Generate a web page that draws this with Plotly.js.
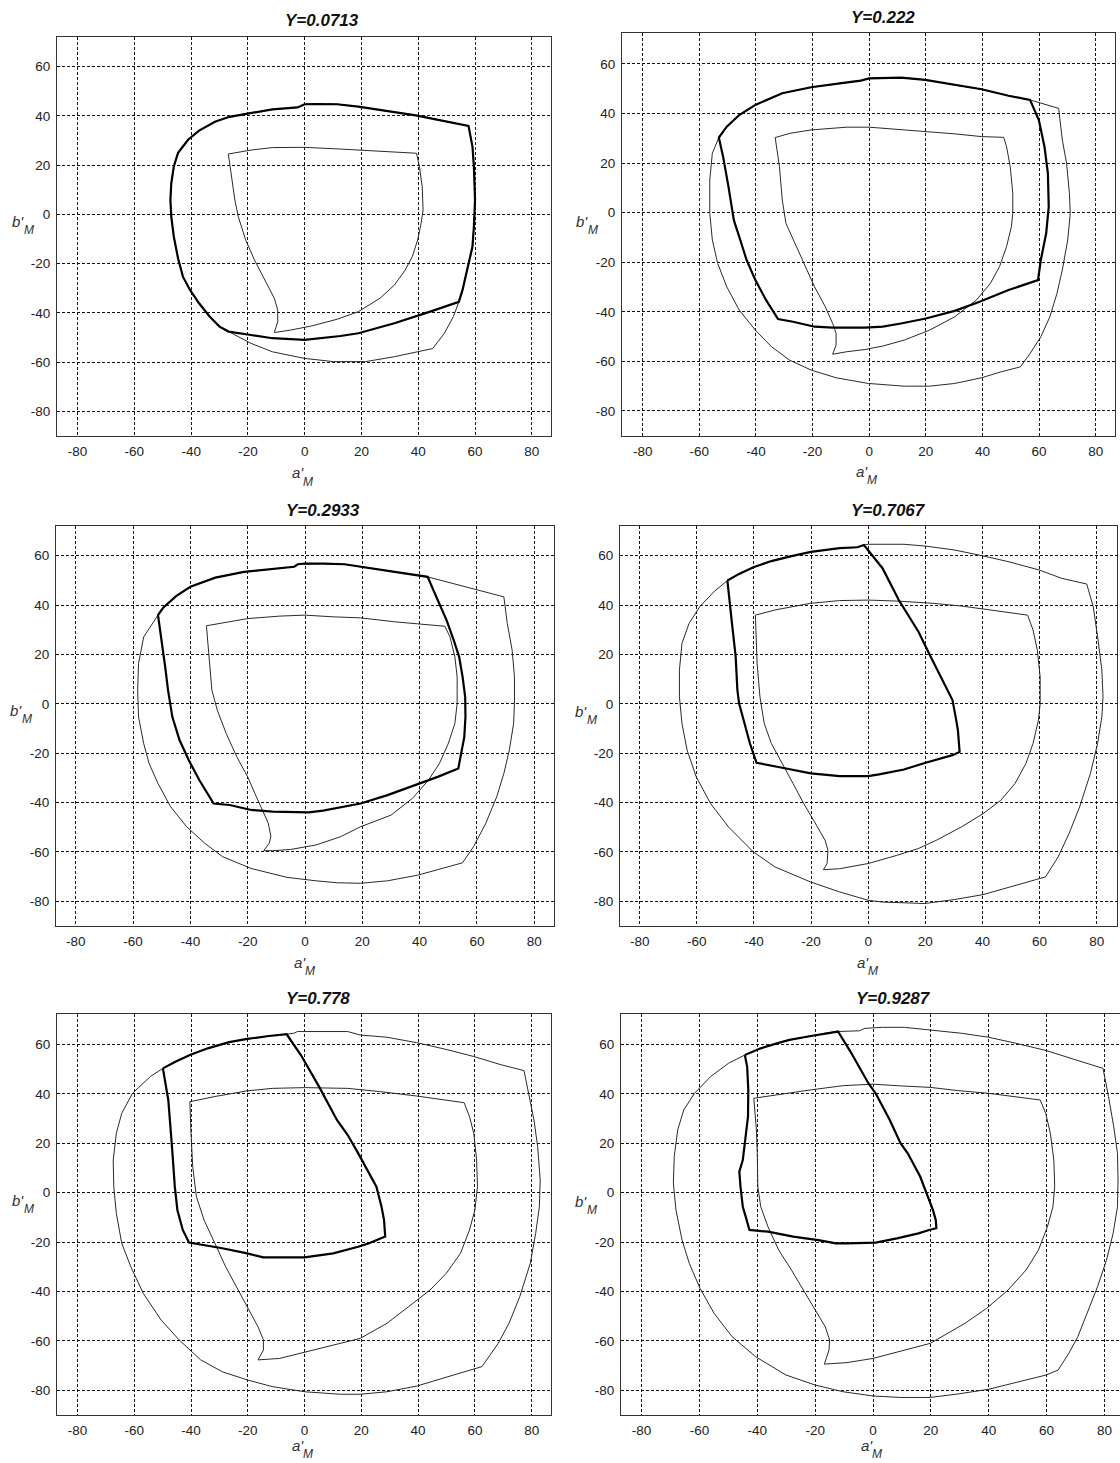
<!DOCTYPE html>
<html>
<head>
<meta charset="utf-8">
<script src="https://cdn.plot.ly/plotly-3.0.1.min.js"></script>
<style>
html,body{margin:0;padding:0;background:#fff;overflow:hidden;}
#chart{width:1126px;height:1463px;}
</style>
</head>
<body>
<div id="chart"></div>
<script>
// ---------------- data (a'_M , b'_M) ----------------
const titles = ["Y=0.0713", "Y=0.222", "Y=0.2933", "Y=0.7067", "Y=0.778", "Y=0.9287"];
const xTicks = [-80, -60, -40, -20, 0, 20, 40, 60, 80];
const yTicks = [-80, -60, -40, -20, 0, 20, 40, 60];

// Panel 1 : Y=0.0713
const thick1A = [0,-2.5,-11.4,-20.2,-26.5,-31.6,-37.2,-41,-44.6,-46.1,-47,-47.3,-47,-46.1,-44.6,-42.9,-40.4,-37.2,-33.5,-30,-26.8,-18.9,-11.4,0,6.3,12.6,18.9,31.6,44.2,54.3,55.6,57.4,59.1,59.6,60,59.6,59.1,57.7,44.2,39.1,18.9,11.4,3.8,0];
const thick1B = [44.7,43.4,42.6,41,39.6,37.6,34,30.4,25,19.4,12.6,5.8,-0.9,-9.1,-17.9,-25.3,-30.7,-36.1,-41.5,-45.6,-47.6,-49,-50.3,-51,-50.3,-49.4,-48.3,-44.2,-39.5,-35.5,-30.7,-21.2,-13.1,-5,5.8,19.4,27.5,35.9,39,40.2,43.7,44.7,44.8,44.7];
const inner1A = [-26.9,-18.9,-11.4,0,12.6,25.3,39.4,40.4,41.4,41.7,41,39.8,37.9,35.4,31.6,26.5,18.9,11.4,2.5,-5,-10.7,-9.5,-9.5,-10.7,-13.9,-17.7,-20.8,-23.4,-24.6,-25.9,-26.9];
const inner1B = [24.5,26.1,27.1,27.2,26.5,25.7,24.8,19.4,11.2,1.8,-3.7,-10.4,-17.2,-22.6,-28.7,-34.1,-39.5,-42.6,-45.3,-47,-48,-43.6,-38.8,-34.1,-26.7,-18.5,-10.4,-0.9,5.8,15.3,24.5];
const outer1A = [-26.8,-18.9,-11.4,0,10.1,21.5,31.6,45.1,49.2,52.4,54.3,55.6,57.4,59.1,59.6,60,59.6,59.1,57.7,44.2,39.1,18.9,11.4,3.8,0,-2.5,-11.4,-20.2,-26.5,-31.6,-37.2,-41,-44.6,-46.1,-47,-47.3,-47,-46.1,-44.6,-42.9,-40.4,-37.2,-33.5,-30,-26.8];
const outer1B = [-47.6,-52.4,-55.8,-58.5,-59.8,-59.8,-57.8,-54.5,-48.3,-41.5,-35.5,-30.7,-21.2,-13.1,-5,5.8,19.4,27.5,35.9,39,40.2,43.7,44.7,44.8,44.7,43.4,42.6,41,39.6,37.6,34,30.4,25,19.4,12.6,5.8,-0.9,-9.1,-17.9,-25.3,-30.7,-36.1,-41.5,-45.6,-47.6];

// Panel 2 : Y=0.222
const thick2A = [0,-3,-10.4,-20.5,-30.7,-40.2,-45.9,-50.3,-53.1,-51.6,-49.7,-47.8,-45.9,-43.3,-40.2,-36.4,-32.2,-26.9,-19.3,-12.9,-1.5,4.8,11.2,20,30.2,39,49.2,59.6,60.6,62.5,63.4,63.1,61.9,59.9,56.8,49.2,39.7,30.2,19.8,11.2,4.8,0];
const thick2B = [54.2,53.3,52.2,50.6,48.2,43.5,39.4,34.7,30.3,22.6,10.5,-3,-9.7,-19.1,-27.2,-35.3,-42.9,-44,-46,-46.4,-46.4,-46,-44.7,-42.7,-39.6,-35.9,-31.2,-27.2,-19.1,-8.3,2.4,15.9,26.6,37.4,45.5,47.2,49.8,51.5,53.6,54.5,54.5,54.2];
const inner2A = [-33.2,-28.1,-20.5,-7.9,0,8.6,17.5,30.2,39.7,47.5,48.5,49.8,50.7,50.7,50.2,48.5,46,42.8,37.8,30.2,21.3,12.4,4.8,-1.5,-7.9,-12.9,-11.7,-11.7,-12.9,-15.5,-19.3,-23.1,-26.9,-29.4,-30.7,-31.7,-33.2];
const inner2B = [30.3,32,33.4,34.5,34.5,33.8,33,31.8,30.7,30.4,26.6,18.6,7.8,-0.3,-5.7,-13.7,-21.8,-28.5,-35.3,-42,-47.4,-51.4,-53.8,-55.2,-56.1,-57.1,-53.4,-48.7,-44.7,-38,-29.9,-20.5,-11,-4.3,5.1,18.6,30.3];
const outer2A = [-53.1,-55.4,-56.3,-56.3,-55.4,-53.5,-50.3,-45.9,-40.2,-34.5,-28.1,-20.5,-11.7,-0.3,12.4,21.3,30.2,39.7,46.6,53.4,56.8,60.6,63.8,66.3,68.2,70.1,71,70.7,69.7,68.2,66.9,56.8,49.2,39.7,30.2,19.8,11.2,4.8,0,-3,-10.4,-20.5,-30.7,-40.2,-45.9,-50.3,-53.1];
const outer2B = [30.3,24,13.2,-0.3,-11,-20.5,-29.9,-39.3,-47.4,-54.1,-59.5,-63.5,-66.6,-68.9,-70,-70,-68.9,-66.6,-64.2,-62.2,-56.8,-50.1,-42,-32.6,-23.1,-11,-0.3,7.8,19.9,29.3,42.1,45.5,47.2,49.8,51.5,53.6,54.5,54.5,54.2,53.3,52.2,50.6,48.2,43.5,39.4,34.7,30.3];

// Panel 3 : Y=0.2933
const thick3A = [0,-2.5,-3.8,-12.5,-21.3,-31.3,-40,-45,-49.4,-51.3,-50,-48.8,-47.8,-46.3,-43.8,-40.6,-36.9,-31.9,-26.3,-18.8,-11.3,1.3,6.3,13.8,19.4,28.8,37.5,46.3,53.5,54.4,55.6,56,55.9,55,53.8,51.9,49.4,46.3,42.8,31.3,19.4,13.8,6.3,0];
const thick3B = [56.8,56.5,55.5,54.4,53.4,51.1,47.4,43.6,39,35.9,25.8,15,5.5,-5.3,-14.7,-22.8,-30.9,-40.4,-41,-43,-43.7,-44,-43.3,-41.7,-40.4,-37,-33.3,-29.6,-26.2,-20.1,-13.4,-5.3,2.8,10.9,19,25.8,33.9,42,51.4,53.4,55.5,56.5,56.8,56.8];
const inner3A = [-34.4,-28.8,-20,-8.8,0,10,19.4,31.3,39.4,48.8,50.6,52.3,53.1,53.1,52.3,50,46.9,43.1,37.5,30,19.4,12.5,3.8,-5,-11.3,-14.4,-12.5,-11.9,-12.8,-15,-17.5,-20,-23.8,-27.5,-30.6,-32.5,-33.5,-34.4];
const inner3B = [31.6,32.8,34.5,35.5,35.9,35.2,34.8,33.2,32.5,31.4,27.1,19,10.9,0.1,-8,-16.1,-24.2,-30.9,-38.3,-45.1,-49.8,-53.8,-57.2,-59,-59.5,-59.5,-56.5,-53.8,-48.4,-42.4,-36.3,-29.6,-21.5,-12,-2.6,5.5,19,31.6];
const outer3A = [-51.3,-56.3,-58.1,-58.4,-58.1,-56.3,-54.4,-51.3,-46.9,-41.3,-35,-28.8,-18.8,-6.3,3.8,11.3,19.4,28.8,39.4,47.5,55,58.8,63.1,66.9,69.4,71.3,72.8,73.1,73.1,72.3,70.6,69.4,56.3,42.8,31.3,19.4,13.8,6.3,0,-2.5,-3.8,-12.5,-21.3,-31.3,-40,-45,-49.4,-51.3];
const outer3B = [35.9,27.1,16.3,5.5,-5.3,-16.1,-24.2,-32.3,-41.7,-49.8,-56.5,-61.9,-66.7,-70.3,-71.7,-72.5,-72.7,-71.7,-69.4,-66.7,-64.4,-57.9,-48.4,-37.7,-28.2,-18.8,-8,0.1,10.9,21.7,32.5,43.3,47.4,51.4,53.4,55.5,56.5,56.8,56.8,56.5,55.5,54.4,53.4,51.1,47.4,43.6,39,35.9];

// Panel 4 : Y=0.7067
const thick4A = [-49.3,-45.2,-40.2,-33.9,-27.6,-20.1,-10,-3.8,-1.5,5,10.7,17.6,21.3,25.1,27.6,29.5,30.7,31.4,32,29.5,20.1,12.5,3.8,0,-10,-20.1,-30.1,-39.1,-41.4,-43.3,-45.2,-45.8,-46.4,-47.7,-49.3];
const thick4B = [49.9,52.6,55.3,57.8,59.6,61.5,63,63.4,64.3,54.9,42,29.2,20.4,11.6,5.5,1.5,-5.9,-10.7,-19.5,-20.8,-23.9,-26.6,-28.6,-29.3,-29.3,-28.2,-25.9,-23.9,-16.1,-8,0.1,5.5,19.1,32.6,49.9];
const inner4A = [-39.5,-32.6,-20.1,-10,0,10,22.6,32.6,42.7,55.8,57.7,59.2,60.2,60.2,59.6,57.7,55.2,51.4,46.4,40.2,32.6,23.8,17.6,10,0,-10,-15.7,-14.4,-14.1,-15.1,-18.8,-22.6,-26.3,-30.1,-33.9,-36.4,-37.9,-38.9,-39.1,-39.5];
const inner4B = [35.9,38,40.7,41.8,42,41.6,40.7,39.6,38,35.9,29.9,21.8,10.9,0.1,-6.6,-16.1,-24.2,-32.3,-39.1,-44.5,-49.9,-55.3,-58.6,-61.4,-64.7,-66.8,-67.2,-64.7,-59.3,-55.3,-47.8,-40.4,-32.3,-24.2,-16.1,-8,2.8,16.4,27.2,35.9];
const outer4A = [-49.3,-54,-59,-62.7,-65.2,-66.1,-66.1,-65.2,-63.4,-60.2,-55.2,-48.9,-40.2,-32.6,-20.1,-10,0,5,19.8,30.1,40.2,51.4,62.1,66.5,70.3,74,77.8,80.3,81.8,82.2,81.8,80.3,78.8,76.5,67.8,59.8,48.9,39.8,30.1,19.8,12.5,0,-1.5,-3.8,-10,-20.1,-27.6,-33.9,-40.2,-45.2,-49.3];
const outer4B = [49.9,45.4,39.3,32.6,24.5,13.6,2.8,-8,-18.8,-29.6,-40.4,-49.9,-60,-66.1,-72.2,-76.2,-79.6,-80.3,-80.9,-79.3,-77.3,-73.5,-70.1,-62,-52.6,-41.8,-28.2,-16.1,-5.3,2.8,13.6,27.2,39.3,48.5,50.8,54.2,57.6,60,62.3,63.9,64.6,64.6,64.3,63.4,63,61.5,59.6,57.8,55.3,52.6,49.9];

// Panel 5 : Y=0.778
const thick5A = [-49.9,-45.5,-40.4,-34.1,-26.5,-20.2,-12.6,-6.3,-1.3,5.1,11.4,15.2,18.9,22.7,25.3,27.1,28,28.4,22.7,18.9,10.1,0,-6.3,-14.5,-20.2,-29,-40.7,-42.9,-44.8,-45.7,-46.7,-48,-49.9];
const thick5B = [50.3,53,55.7,58.4,60.9,62.2,63.4,64.1,55.7,42.9,29.4,23.3,15.9,7.8,2.4,-5.7,-11.1,-17.8,-20.5,-21.9,-24.6,-26.2,-26.2,-26.2,-24.6,-22.5,-20.2,-15.1,-7,2.4,18.6,37.5,50.3];
const inner5A = [-40.4,-31.6,-20.2,-11.4,0,6.3,15.2,26.5,39.5,56.2,58.1,59.6,60.6,60.9,60,58.1,54.9,49.9,44.2,36.6,29,19.6,11.4,0,-8.8,-16.4,-14.5,-14.5,-16.4,-20.2,-24,-27.8,-31.6,-35.4,-38.1,-39.4,-40,-40.4];
const inner5B = [36.8,38.9,41.2,42.2,42.5,42.5,42.2,40.9,39.1,36.4,30.8,24,13.2,2.4,-7,-15.1,-24.6,-32.7,-39.4,-46.2,-52.9,-59,-61.4,-64.8,-67.1,-67.7,-63.7,-59.6,-54.3,-46.2,-38.1,-30,-20.5,-11.1,-1.6,10.5,24,36.8];
const outer5A = [-49.9,-54.3,-60.6,-64.4,-66.3,-67.4,-67.2,-66.3,-64.4,-61.2,-56.8,-50.5,-44.2,-36.6,-29,-20.2,-11.4,0,12.6,19.6,29,39.5,50.5,62.5,68.2,72,75.8,79.5,81.4,82.7,83,82.1,80.8,77.3,69.4,59.6,50.5,39.5,29,19.6,15.2,6.3,-2.5,-3.8,-6.3,-12.6,-20.2,-26.5,-34.1,-40.4,-45.5,-49.9];
const outer5B = [50.3,47,40.2,32.1,24,13.2,2.4,-8.4,-20.5,-30,-40.8,-51.6,-59.6,-67.7,-72.5,-75.8,-78.5,-80.6,-81.6,-81.6,-80.6,-78.3,-74.5,-70.4,-61,-52.9,-42.1,-28.6,-16.5,-5.7,5.1,18.6,29.4,49.4,51.7,55.1,57.8,60.7,62.9,63.8,65.2,65.2,65.2,64.5,64.1,63.4,62.2,60.9,58.4,55.7,53,50.3];

// Panel 6 : Y=0.9287
const thick6A = [-44.3,-38.8,-33.8,-28.9,-21.4,-16.5,-12.1,-7.8,-1.6,0.9,5.8,9.5,12,16.3,19.4,20.7,21.7,21.9,19.4,15.7,8.3,0.9,-9,-12.8,-18.9,-27.6,-36.3,-42.7,-44,-45,-45.8,-46.2,-45,-44.1,-43.2,-43.1,-43.5,-44.3];
const thick6B = [55.7,58.4,60.2,61.8,63.4,64.5,65.2,57.1,44.3,40.2,29.4,20,15.9,6.5,-3,-7,-11.1,-14.4,-15.1,-16.5,-18.5,-20.2,-20.5,-20.5,-19.2,-17.8,-15.8,-15.1,-9.7,-5.7,2.4,8.5,13.2,21.3,30.8,41.6,51,55.7];
const inner6A = [-41.2,-33.8,-21.4,-10.3,0,9.5,19.8,29.3,39.9,57.8,59.7,61.3,62.5,62.8,62.2,60.3,57.2,52.9,46.7,39.3,31.8,19.8,10.8,0,-9,-16.8,-15.2,-15,-16.5,-19.9,-23.9,-28.2,-32.6,-36.3,-38.8,-39.8,-40,-40.3,-41.2];
const inner6B = [38.2,39.5,41.6,43.3,43.9,43.2,42.6,41.3,40.2,37.5,32.1,24,13.2,2.4,-5.7,-13.8,-23.2,-31.3,-39.4,-46.8,-52.9,-61,-63.7,-67.1,-68.8,-69.4,-63.7,-59.6,-54.3,-47.5,-39.4,-31.3,-23.2,-13.8,-5.7,2.4,15.9,25.4,38.2];
const outer6A = [-44.3,-49.9,-56.1,-61.7,-65.4,-67.5,-68.7,-69,-68.1,-66,-63.5,-59.8,-54.9,-48.7,-40.6,-30.1,-19.9,-10.3,0,9.5,19.8,29.3,39.9,50.4,59.9,64,67.7,70.8,73.9,77.6,80.7,83,84.5,84.7,84.5,83.2,81.4,79.5,70.2,59.9,49.2,39.9,30.6,19.8,10.8,3.3,-2.8,-4.7,-9,-12.1,-16.5,-21.4,-28.9,-33.8,-38.8,-44.3];
const outer6B = [55.7,52.4,47,40.2,33.5,25.4,14.6,3.8,-7,-19.2,-28.6,-38.7,-48.9,-58.3,-66.4,-73.8,-77.9,-80.6,-82.3,-82.9,-82.9,-81.5,-79.6,-76.5,-73.8,-71.8,-65,-58.3,-48.9,-38.1,-27.3,-16.5,-5.7,5.1,15.9,26.7,38.9,50.3,53.7,57.5,60.5,62.9,64.5,65.9,66.9,66.9,66.5,65.5,65.2,65.2,64.5,63.4,61.8,60.2,58.4,55.7];

// ---------------- layout helpers ----------------
const W = 1126, H = 1463;
const FONT = "Liberation Sans, Arial, Helvetica, sans-serif";

// pixel boxes [left, right, top, bottom], axis ranges, annotation positions
const panels = [
  {box:[57,551,37,436],    xr:[-87.25,86.76], yr:[-90,72],    t:[322,20],   yl:[24,224],   xl:[303,476],
   curves:[[outer1A,outer1B],[inner1A,inner1B],[thick1A,thick1B]]},
  {box:[622,1115,33,436],  xr:[-87.3,86.8],   yr:[-90.1,72.5], t:[883,17],  yl:[588,224],  xl:[867,474],
   curves:[[outer2A,outer2B],[inner2A,inner2B],[thick2A,thick2B]]},
  {box:[56,554,526,926],   xr:[-86.9,86.9],   yr:[-90,72],    t:[323,510],  yl:[22,713],   xl:[305,965],
   curves:[[outer3A,outer3B],[inner3A,inner3B],[thick3A,thick3B]]},
  {box:[620,1117,526,926], xr:[-86.9,87.1],   yr:[-90,72],    t:[888,510],  yl:[587,714],  xl:[868,965],
   curves:[[outer4A,outer4B],[inner4A,inner4B],[thick4A,thick4B]]},
  {box:[57,551,1014,1415], xr:[-87.2,86.8],   yr:[-90,72.3],  t:[318,999],  yl:[24,1203],  xl:[303,1448],
   curves:[[outer5A,outer5B],[inner5A,inner5B],[thick5A,thick5B]]},
  {box:[621,1125,1014,1415], xr:[-87.1,87.1], yr:[-90,72.3],  t:[893,998],  yl:[587,1204], xl:[872,1448],
   curves:[[outer6A,outer6B],[inner6A,inner6B],[thick6A,thick6B]]}
];

const traces = [];
const layout = {
  width: W, height: H,
  margin: {l:0, r:0, t:0, b:0},
  paper_bgcolor: '#fff', plot_bgcolor: '#fff',
  showlegend: false,
  font: {family: FONT, size: 13, color: '#222'},
  annotations: []
};

function addText(txt, px, py, size, opts) {
  layout.annotations.push({
    text: txt, xref: 'paper', yref: 'paper',
    x: px / W, y: 1 - py / H, xanchor: 'center', yanchor: 'middle',
    showarrow: false,
    font: Object.assign({family: FONT, size: size, color: '#333', style: 'italic'}, opts || {})
  });
}

panels.forEach((p, i) => {
  const n = i + 1;
  const xa = 'x' + (n === 1 ? '' : n), ya = 'y' + (n === 1 ? '' : n);
  const xKey = 'xaxis' + (n === 1 ? '' : n), yKey = 'yaxis' + (n === 1 ? '' : n);
  const common = {
    showgrid: true, gridcolor: '#111', gridwidth: 1, griddash: '3px,2px',
    showline: true, mirror: true, linecolor: '#333', linewidth: 1,
    zeroline: false, ticks: '', ticklabelstandoff: 3,
    tickfont: {family: FONT, size: 13.5, color: '#222'},
    fixedrange: true
  };
  layout[xKey] = Object.assign({}, common, {
    domain: [p.box[0] / W, p.box[1] / W], range: p.xr,
    tickvals: xTicks, ticktext: xTicks.map(String), anchor: ya
  });
  layout[yKey] = Object.assign({}, common, {
    domain: [1 - p.box[3] / H, 1 - p.box[2] / H], range: p.yr,
    tickvals: yTicks, ticktext: yTicks.map(String), anchor: xa
  });
  const styles = [
    {width: 1, color: '#2a2a2a'},
    {width: 1, color: '#2a2a2a'},
    {width: 2.2, color: '#000'}
  ];
  const names = ['outer', 'inner', 'boundary'];
  p.curves.forEach((c, k) => {
    traces.push({
      type: 'scatter', mode: 'lines', x: c[0], y: c[1],
      xaxis: xa, yaxis: ya, name: names[k],
      line: Object.assign({shape: 'linear'}, styles[k]),
      hoverinfo: 'skip'
    });
  });
  // panel title
  addText(titles[i], p.t[0], p.t[1], 17, {color: '#111', weight: 'bold'});
  // y label  b'_M  (main part + subscript)
  addText("b'", p.yl[0] - 6, p.yl[1] - 3, 15);
  addText("M", p.yl[0] + 5, p.yl[1] + 6, 12);
  // x label  a'_M
  addText("a'", p.xl[0] - 5, p.xl[1] - 3, 15);
  addText("M", p.xl[0] + 5, p.xl[1] + 6, 12);
});

Plotly.newPlot('chart', traces, layout, {staticPlot: true, displayModeBar: false});
</script>
</body>
</html>
